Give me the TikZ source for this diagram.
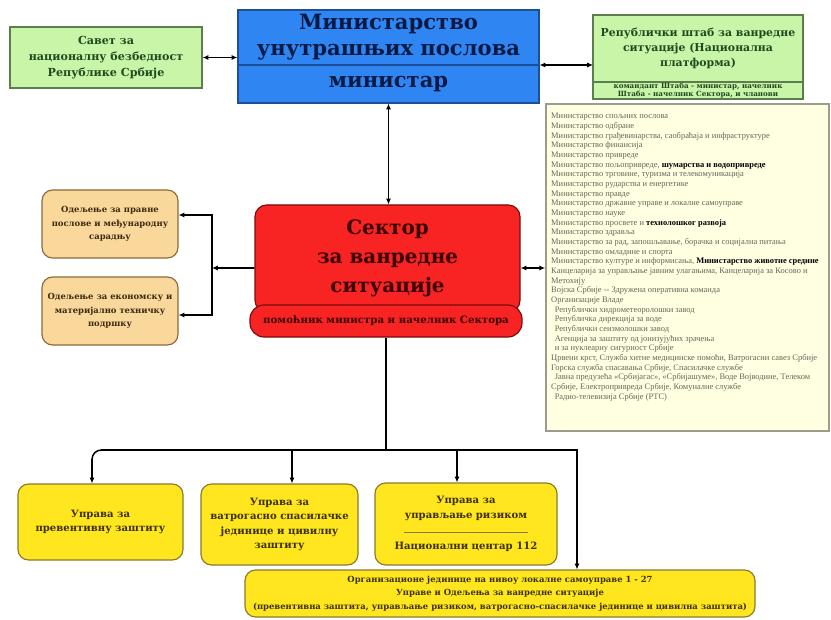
\documentclass[tikz,border=0pt]{standalone}
\usepackage{fontspec}
\setmainfont{DejaVu Serif}
\newfontfamily\lstfont{Liberation Serif}
\usepackage{xcolor}
\usepackage{tikz}
\usetikzlibrary{arrows.meta,calc,positioning}
\definecolor{mupblue}{HTML}{2F86F3}
\definecolor{mupedge}{HTML}{1D4E9A}
\definecolor{mupink}{HTML}{0B1A45}
\definecolor{grnfill}{HTML}{C8F5A8}
\definecolor{grnedge}{HTML}{5C7D4C}
\definecolor{grnink}{HTML}{1F4A1F}
\definecolor{redfill}{HTML}{F82424}
\definecolor{rededge}{HTML}{7A0A0A}
\definecolor{redink}{HTML}{3B0000}
\definecolor{orgfill}{HTML}{FAD79A}
\definecolor{orgedge}{HTML}{8A6A3A}
\definecolor{orgink}{HTML}{3A2A10}
\definecolor{ylwfill}{HTML}{FFE61E}
\definecolor{ylwedge}{HTML}{8A7A2E}
\definecolor{ylwink}{HTML}{3B3000}
\definecolor{lstfill}{HTML}{FFFFE2}
\definecolor{lstedge}{HTML}{9C9C8A}
\definecolor{lstink}{HTML}{66665A}
\newcommand{\setfs}[2]{\fontsize{#1}{#2}\selectfont}
\tikzset{
  sz/.style 2 args={minimum width=#1*0.03cm,minimum height=#2*0.03cm},
  box/.style={draw,line width=1pt,inner sep=1pt,align=center},
  mupbox/.style={box,fill=mupblue,draw=mupedge,text=mupink},
  grnbox/.style={box,fill=grnfill,draw=grnedge,text=grnink},
  redbox/.style={box,fill=redfill,draw=rededge,text=redink,rounded corners=10pt},
  orgbox/.style={box,fill=orgfill,draw=orgedge,text=orgink,rounded corners=9pt},
  ylwbox/.style={box,fill=ylwfill,draw=ylwedge,text=ylwink,rounded corners=9pt},
  lstbox/.style={draw=lstedge,fill=lstfill,line width=1.4pt,inner sep=0pt},
  lsttxt/.style={align=left,inner sep=0pt,text=lstink,font=\lstfont\setfs{7.2}{8.25}},
  wire/.style={line width=1.3pt},
}

\begin{document}
\begin{tikzpicture}[x=0.03cm,y=-0.03cm,>={Latex[length=5pt,width=4.5pt]}]
\useasboundingbox (0,0) rectangle (831,620);

% ministry and the two councils
\node[mupbox,sz={301}{55},font=\bfseries\setfs{18}{22}] (mupT) at (388.5,37.5) {Министарство\\унутрашњих послова};
\node[mupbox,sz={301}{38},font=\bfseries\setfs{18}{20}] (mupB) at (388.5,84) {министар};
\node[grnbox,sz={192}{61},font=\bfseries\setfs{9.5}{13.5}] (svt) at (106,57.5) {Савет за\\националну безбедност\\Републике Србије};
\node[grnbox,sz={210}{67},font=\bfseries\setfs{9.3}{13}] (stabT) at (698,48.5) {Републички штаб за ванредне\\ситуације (Национална\\платформа)};
\node[grnbox,sz={210}{17},inner sep=0pt,font=\bfseries\setfs{6.1}{7.4}] (stabB) at (698,90.5) {командант Штаба - министар, начелник\\Штаба - начелник Сектора, и чланови};

% list of partners
\node[lstbox,sz={283}{327}] (lst) at (687.5,267.5) {};
\node[lsttxt,anchor=north west] (lstt) at (551,113) {%
Министарство спољних послова\\
Министарство одбране\\
Министарство грађевинарства, саобраћаја и инфраструктуре\\
Министарство финансија\\
Министарство привреде\\
Министарство пољопривреде, {\color{black}\bfseries шумарства и водопривреде}\\
Министарство трговине, туризма и телекомуникација\\
Министарство рударства и енергетике\\
Министарство правде\\
Министарство државне управе и локалне самоуправе\\
Министарство науке\\
Министарство просвете и {\color{black}\bfseries технолошког развоја}\\
Министарство здравља\\
Министарство за рад, запошљавање, борачка и социјална питања\\
Министарство омладине и спорта\\
Министарство културе и информисања, {\color{black}\bfseries Министарство животне средине}\\
Канцеларија за управљање јавним улагањима, Канцеларија за Косово и\\
Метохију\\
Војска Србије -- Здружена оперативна команда\\
Организације Владе\\
\hspace{3pt}Републички хидрометеоролошки завод\\
\hspace{3pt}Републичка дирекција за воде\\
\hspace{3pt}Републички сеизмолошки завод\\
\hspace{3pt}Агенција за заштиту од јонизујућих зрачења\\
\hspace{3pt}и за нуклеарну сигурност Србије\\
Црвени крст, Служба хитне медицинске помоћи, Ватрогасни савез Србије\\
Горска служба спасавања Србије, Спасилачке службе\\
\hspace{3pt}Јавна предузећа «Србијагас», «Србијашуме», Воде Војводине, Телеком\\
Србије, Електропривреда Србије, Комуналне службе\\
\hspace{3pt}Радио-телевизија Србије (РТС)};

% sector
\node[redbox,sz={265}{107},font=\bfseries\setfs{17}{25}] (sek) at (387.5,258.5) {Сектор\\за ванредне\\ситуације};
\node[redbox,sz={272}{32},rounded corners=12pt,font=\bfseries\setfs{8.7}{11}] (pom) at (386,321) {помоћник министра и начелник Сектора};

\node[orgbox,sz={136}{68},font=\bfseries\setfs{7.2}{11.5}] (opr) at (110,224) {Одељење за правне\\послове и међународну\\сарадњу};
\node[orgbox,sz={136}{68},font=\bfseries\setfs{7.2}{11.5}] (oek) at (110,311) {Одељење за економску и\\материјално техничку\\подршку};

% directorates
\node[ylwbox,sz={165}{76},font=\bfseries\setfs{8.6}{12.3}] (upz) at (100.5,522) {Управа за\\превентивну заштиту};
\node[ylwbox,sz={157}{81},font=\bfseries\setfs{8.6}{12.3}] (uvs) at (279.5,524.5) {Управа за\\ватрогасно спасилачке\\јединице и цивилну\\заштиту};
\node[ylwbox,sz={182}{82},font=\bfseries\setfs{8.6}{12.3}] (urz) at (466,524) {Управа за\\управљање ризиком\\[0pt]{\color{ylwedge}\rule{105pt}{0.8pt}}\\[2pt]Национални центар 112};
\node[ylwbox,sz={510}{47},font=\bfseries\setfs{7.2}{11.5}] (lok) at (500,593.5) {Организационе јединице на нивоу локалне самоуправе 1 - 27\\Управе и Одељења за ванредне ситуације\\(превентивна заштита, управљање ризиком, ватрогасно-спасилачке јединице и цивилна заштита)};

% connectors
\coordinate (rarr) at (593,65);
\coordinate (jn) at (212,268);
\coordinate (b1) at (92,450);
\coordinate (b2) at (292,450);
\coordinate (b3) at (457,450);
\coordinate (b4) at (577,450);
\draw[wire,<->] (svt.east) -- (svt.east -| mupT.west);
\draw[wire,<->] (rarr -| mupT.east) -- (rarr);
\draw[wire,<->] (mupB.south) -- (mupB.south |- sek.north);
\draw[wire,<->] ([yshift=-0.285cm]sek.east) -- ([yshift=-0.285cm]sek.east -| lst.west);
\draw[wire,->] ([yshift=-0.285cm]sek.west) -- (jn);
\draw[wire,->] (jn) |- ([yshift=0.27cm]opr.east);
\draw[wire,->] (jn) |- ([yshift=-0.12cm]oek.east);
\draw[wire] (pom.south) -- (pom.south |- b1);
\draw[wire,->,rounded corners=8pt] (pom.south |- b1) -- (b1) -- (b1 |- upz.north);
\draw[wire,->] (b2) -- (b2 |- uvs.north);
\draw[wire,->] (b3) -- (b3 |- urz.north);
\draw[wire,->] (pom.south |- b4) -- (b4) -- (b4 |- lok.north);
\end{tikzpicture}
\end{document}
